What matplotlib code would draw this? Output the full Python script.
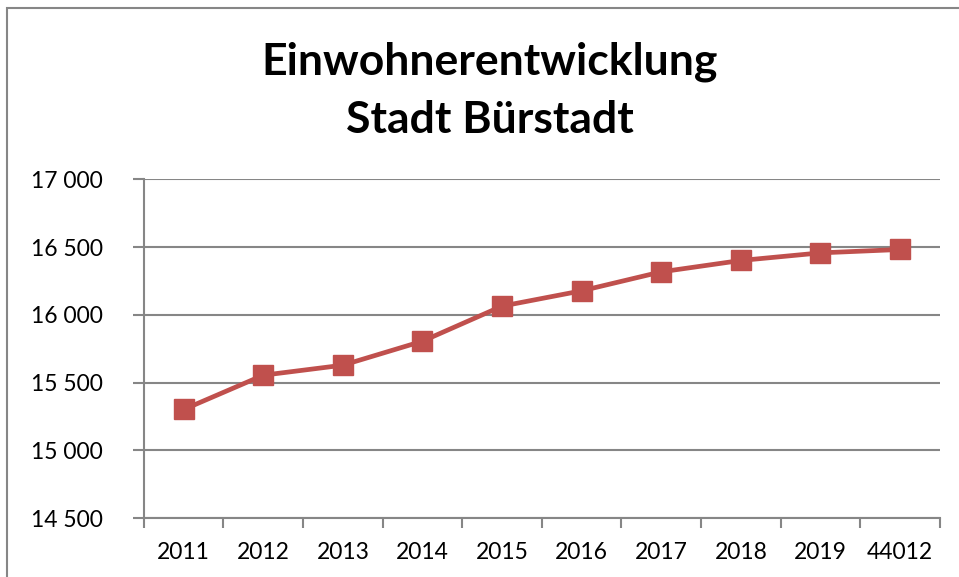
import matplotlib
matplotlib.use("Agg")
import matplotlib.pyplot as plt
from matplotlib.patches import Rectangle
from matplotlib.ticker import FuncFormatter

years = ["2011", "2012", "2013", "2014", "2015", "2016", "2017", "2018", "2019", "44012"]
einwohner = [15302, 15555, 15629, 15806, 16065, 16178, 16318, 16402, 16458, 16483]

plt.rcParams["font.family"] = ["Lato", "DejaVu Sans"]
GRID = "#868686"
RED = "#C0504D"

fig = plt.figure(figsize=(9.59, 5.77), dpi=100)
ax = fig.add_axes([0.150, 0.102, 0.830, 0.587])

# outer chart frame (runs off right/bottom as in the screenshot)
fig.patches.append(Rectangle((7 / 959, -0.1), 1.2, 1 - 8 / 577 + 0.1,
                             transform=fig.transFigure, fill=False,
                             edgecolor=GRID, lw=1.5))

x = list(range(len(years)))
ax.plot(x, einwohner, color=RED, lw=3.4, marker="s", ms=15,
        mfc=RED, mec=RED, zorder=3)

ax.set_xlim(-0.5, len(years) - 0.5)
ax.set_ylim(14500, 17000)
ax.set_yticks(range(14500, 17001, 500))
ax.yaxis.set_major_formatter(FuncFormatter(lambda v, p: f"{int(v):,}".replace(",", " ")))
ax.grid(axis="y", color=GRID, lw=1.5)
ax.set_axisbelow(True)

# ticks between categories, labels centred
ax.set_xticks([i - 0.5 for i in range(len(years) + 1)])
ax.set_xticklabels([])
ax.set_xticks(x, minor=True)
ax.set_xticklabels(years, minor=True)
ax.tick_params(axis="x", which="major", length=7, color=GRID, width=1.5)
ax.tick_params(axis="x", which="minor", length=0, pad=17, labelsize=16.5)
ax.tick_params(axis="y", length=8, color=GRID, width=1.5, pad=21.5, labelsize=16.5)

for s in ["top", "right"]:
    ax.spines[s].set_visible(False)
for s in ["left", "bottom"]:
    ax.spines[s].set_color(GRID)
    ax.spines[s].set_linewidth(1.5)

fig.text(0.511, 0.893, "Einwohnerentwicklung", ha="center", va="center",
         fontsize=32, fontweight="bold")
fig.text(0.511, 0.792, "Stadt Bürstadt", ha="center", va="center",
         fontsize=32, fontweight="bold")

fig.savefig("out.png", dpi=100)
